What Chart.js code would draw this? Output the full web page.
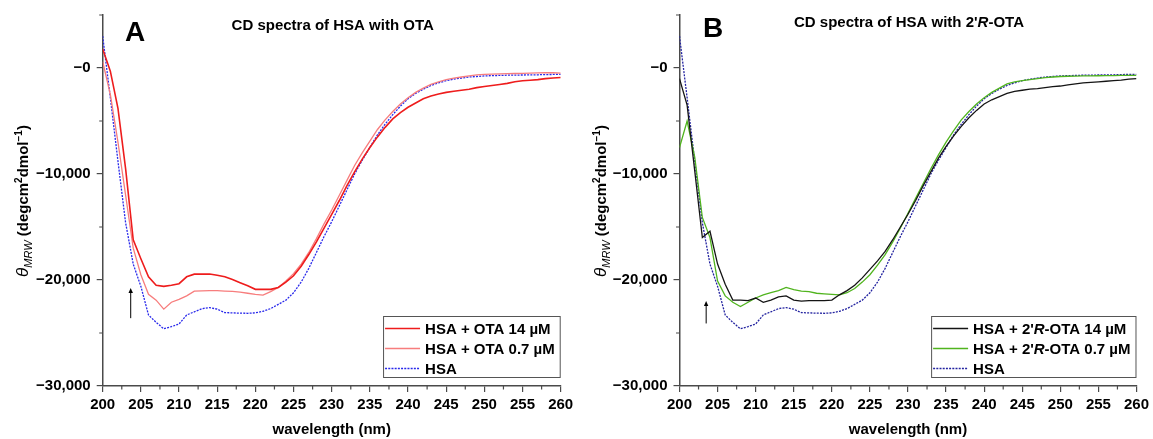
<!DOCTYPE html>
<html>
<head>
<meta charset="utf-8">
<script src="https://cdn.jsdelivr.net/npm/chart.js@4.4.0/dist/chart.umd.min.js"></script>
<style>
  body { margin: 0; background: #fff; }
  #wrap { display: flex; width: 1153px; height: 439px; }
  canvas { display: block; }
</style>
</head>
<body>
<div id="wrap">
  <canvas id="chartA" width="578" height="439"></canvas>
  <canvas id="chartB" width="575" height="439"></canvas>
</div>
<script>
// wavelength (nm)
const wavelengths = [
  200, 201, 202, 203, 204, 205, 206, 207, 208, 209,
  210, 211, 212, 213, 214, 215, 216, 217, 218, 219,
  220, 221, 222, 223, 224, 225, 226, 227, 228, 229,
  230, 231, 232, 233, 234, 235, 236, 237, 238, 239,
  240, 241, 242, 243, 244, 245, 246, 247, 248, 249,
  250, 251, 252, 253, 254, 255, 256, 257, 258, 259, 260,
]

// theta MRW values
const hsa = [
  3000, -2800, -8800, -14600, -18500, -20600, -23300, -24000, -24600, -24400,
  -24150, -23300, -23000, -22700, -22600, -22750, -23080, -23100, -23130, -23140,
  -23100, -22950, -22700, -22300, -21900, -21200, -20200, -18900, -17400, -15900,
  -14500, -13000, -11500, -10000, -8700, -7500, -6300, -5300, -4400, -3600,
  -2900, -2400, -2000, -1650, -1400, -1200, -1050, -950, -850, -800,
  -750, -720, -700, -680, -670, -660, -650, -640, -620, -610, -600,
]
const otaHigh = [
  1800, -300, -3800, -9500, -16200, -18000, -19700, -20500, -20600, -20500,
  -20350, -19700, -19450, -19450, -19430, -19550, -19700, -19950, -20250, -20550,
  -20880, -20880, -20880, -20700, -20200, -19600, -18700, -17600, -16400, -15100,
  -13800, -12500, -11100, -9800, -8600, -7500, -6500, -5600, -4800, -4200,
  -3700, -3300, -2900, -2650, -2450, -2300, -2200, -2100, -2000, -1850,
  -1750, -1650, -1550, -1450, -1300, -1200, -1150, -1100, -1000, -950, -900,
]
const otaLow = [
  600, -2500, -7000, -12000, -17000, -19500, -21350, -21900, -22750, -22100,
  -21820, -21500, -21050, -21020, -21010, -21010, -21050, -21080, -21150, -21250,
  -21350, -21420, -21100, -20700, -20100, -19400, -18500, -17400, -16100, -14700,
  -13400, -12000, -10600, -9200, -8000, -6900, -5800, -4900, -4100, -3400,
  -2800, -2300, -1900, -1550, -1300, -1100, -950, -850, -750, -650,
  -600, -580, -560, -540, -520, -500, -480, -460, -450, -450, -480,
]
const rotaHigh = [
  -1000, -3500, -9700, -16000, -15400, -18500, -20400, -21900, -21900, -21950,
  -21700, -22100, -21900, -21600, -21500, -21900, -22000, -21950, -21950, -21950,
  -21900, -21400, -21000, -20500, -19800, -19000, -18200, -17300, -16200, -15000,
  -13800, -12500, -11100, -9800, -8500, -7400, -6400, -5500, -4700, -4000,
  -3400, -3000, -2700, -2400, -2200, -2100, -2000, -1950, -1850, -1750,
  -1700, -1600, -1500, -1400, -1350, -1300, -1250, -1200, -1150, -1050, -1000,
]
const rotaLow = [
  -7500, -5000, -8400, -14100, -16000, -20100, -21500, -22100, -22500, -22100,
  -21700, -21400, -21200, -21000, -20700, -20900, -21050, -21100, -21250, -21300,
  -21350, -21400, -21200, -20800, -20200, -19500, -18600, -17600, -16400, -15100,
  -13700, -12300, -10900, -9500, -8200, -7000, -5900, -4900, -4100, -3400,
  -2800, -2300, -1900, -1500, -1300, -1200, -1100, -1000, -900, -850,
  -800, -780, -760, -750, -740, -730, -720, -710, -700, -700, -700,
]

// axes
const xTicks = [200, 205, 210, 215, 220, 225, 230, 235, 240, 245, 250, 255, 260]
const xMinorTicks = [202.5, 207.5, 212.5, 217.5, 222.5, 227.5, 232.5, 237.5, 242.5, 247.5, 252.5, 257.5]
const yTicks = [0, -10000, -20000, -30000]
const yTickLabels = ['\u22120', '\u221210,000', '\u221220,000', '\u221230,000']
const yMinorTicks = [5000, -5000, -15000, -25000]

// texts
const panelLetters = ['A', 'B']
const panelTitles = ['CD spectra of HSA with OTA', "CD spectra of HSA with 2'<i>R</i>-OTA"]
const legendA = ['HSA + OTA 14 \u00b5M', 'HSA + OTA 0.7 \u00b5M', 'HSA']
const legendB = ["HSA + 2'<i>R</i>-OTA 14 \u00b5M", "HSA + 2'<i>R</i>-OTA 0.7 \u00b5M", 'HSA']
const xTitle = 'wavelength (nm)'

// small arrows (wavelength, from, to)
const arrowAt = [203.67, 203.5]
const arrowFrom = [-23600, -24100]
const arrowTo = [-20750, -21980]

const FAMILY = '"Liberation Sans", Arial, Helvetica, sans-serif'
const AXIS = '#4a4a4a'
Chart.defaults.font.family = FAMILY
Chart.defaults.color = '#000'

function points(values) {
  return wavelengths.map((w, i) => ({ x: w, y: values[i] }))
}

function richParts(s) {
  return s.split(/<\/?i>/).map((t, i) => ({ t, italic: i % 2 === 1 }))
}

function richWidth(ctx, s, size) {
  let w = 0
  richParts(s).forEach((p) => {
    ctx.font = `${p.italic ? 'italic ' : ''}bold ${size}px ${FAMILY}`
    w += ctx.measureText(p.t).width
  })
  return w
}

function drawRich(ctx, s, x, y, size, align) {
  const w = richWidth(ctx, s, size)
  let cx = align === 'center' ? x - w / 2 : x
  richParts(s).forEach((p) => {
    ctx.font = `${p.italic ? 'italic ' : ''}bold ${size}px ${FAMILY}`
    ctx.fillText(p.t, cx, y)
    cx += ctx.measureText(p.t).width
  })
  return w
}

// y axis title: theta_MRW (degcm^2 dmol^-1)
const yTitleParts = [
  { t: '\u03b8', font: 'italic 17px', dy: 0 },
  { t: 'MRW', font: 'italic 11px', dy: 4 },
  { t: ' (degcm', font: 'bold 15px', dy: 0 },
  { t: '2', font: 'bold 10px', dy: -6 },
  { t: 'dmol', font: 'bold 15px', dy: 0 },
  { t: '\u22121', font: 'bold 10px', dy: -6 },
  { t: ')', font: 'bold 15px', dy: 0 },
]

function drawYTitle(ctx, x, yCenter) {
  let w = 0
  yTitleParts.forEach((p) => {
    ctx.font = `${p.font} ${FAMILY}`
    w += ctx.measureText(p.t).width
  })
  ctx.save()
  ctx.translate(x, yCenter + w / 2)
  ctx.rotate(-Math.PI / 2)
  ctx.textBaseline = 'alphabetic'
  ctx.textAlign = 'left'
  let cx = 0
  yTitleParts.forEach((p) => {
    ctx.font = `${p.font} ${FAMILY}`
    ctx.fillText(p.t, cx, p.dy)
    cx += ctx.measureText(p.t).width
  })
  ctx.restore()
}

const decor = {
  id: 'decor',
  afterDraw(chart, args, o) {
    const { ctx, chartArea: a, scales } = chart
    const x = scales.x
    const y = scales.y
    ctx.save()

    // minor ticks
    ctx.strokeStyle = AXIS
    ctx.lineWidth = 1.2
    ctx.beginPath()
    xMinorTicks.forEach((v) => {
      const px = x.getPixelForValue(v)
      ctx.moveTo(px, a.bottom)
      ctx.lineTo(px, a.bottom + 3.5)
    })
    yMinorTicks.forEach((v) => {
      const py = y.getPixelForValue(v)
      ctx.moveTo(a.left, py)
      ctx.lineTo(a.left - 3.5, py)
    })
    ctx.stroke()

    // arrow
    const ax = x.getPixelForValue(arrowAt[o.panel])
    const ay0 = y.getPixelForValue(arrowFrom[o.panel])
    const ay1 = y.getPixelForValue(arrowTo[o.panel])
    ctx.strokeStyle = '#000'
    ctx.fillStyle = '#000'
    ctx.lineWidth = 1
    ctx.beginPath()
    ctx.moveTo(ax, ay0)
    ctx.lineTo(ax, ay1 + 4)
    ctx.stroke()
    ctx.beginPath()
    ctx.moveTo(ax, ay1)
    ctx.lineTo(ax - 2.2, ay1 + 5)
    ctx.lineTo(ax + 2.2, ay1 + 5)
    ctx.closePath()
    ctx.fill()

    // panel letter and title
    ctx.fillStyle = '#000'
    ctx.textBaseline = 'middle'
    ctx.textAlign = 'left'
    ctx.font = `bold 28px ${FAMILY}`
    ctx.fillText(panelLetters[o.panel], 125, o.letterY)
    drawRich(ctx, panelTitles[o.panel], (a.left + a.right) / 2 + 1, o.titleY, 15, 'center')

    // y title
    drawYTitle(ctx, 28, 201)

    // legend
    const labels = o.legend
    let tw = 0
    labels.forEach((s) => {
      tw = Math.max(tw, richWidth(ctx, s, 15))
    })
    const boxW = 2 + 35 + 5 + tw + 6
    const boxH = 62
    const bx = a.right - boxW
    const by = a.bottom - 8 - boxH
    ctx.fillStyle = '#fff'
    ctx.fillRect(bx, by, boxW, boxH)
    ctx.strokeStyle = '#555'
    ctx.lineWidth = 1
    ctx.strokeRect(bx + 0.5, by + 0.5, boxW - 1, boxH - 1)
    chart.data.datasets.forEach((ds, i) => {
      const ry = by + 12.5 + i * 20
      ctx.save()
      ctx.strokeStyle = ds.borderColor
      ctx.lineWidth = ds.borderWidth
      ctx.setLineDash(ds.borderDash || [])
      ctx.beginPath()
      ctx.moveTo(bx + 2, ry)
      ctx.lineTo(bx + 37, ry)
      ctx.stroke()
      ctx.restore()
      ctx.fillStyle = '#000'
      ctx.textBaseline = 'middle'
      drawRich(ctx, labels[i], bx + 42, ry + 1, 15, 'left')
    })

    ctx.restore()
  },
}

function makeChart(id, panel, datasets, yAxisWidth, padRight, letterY, titleY, legend) {
  const canvas = document.getElementById(id)
  return new Chart(canvas.getContext('2d'), {
    type: 'line',
    data: { datasets },
    options: {
      responsive: false,
      animation: false,
      devicePixelRatio: 1,
      layout: { padding: { left: 0, right: padRight, top: 15, bottom: 0 } },
      elements: { point: { radius: 0 }, line: { tension: 0 } },
      scales: {
        x: {
          type: 'linear',
          min: 200,
          max: 260,
          afterBuildTicks: (s) => {
            s.ticks = xTicks.map((v) => ({ value: v }))
          },
          afterFit: (s) => {
            s.height = 53
          },
          border: { display: true, color: AXIS, width: 1.5 },
          grid: { drawOnChartArea: false, drawTicks: true, tickLength: 6, color: AXIS, lineWidth: 1.2 },
          ticks: {
            font: { size: 15, weight: 'bold' },
            color: '#000',
            padding: 4,
            maxRotation: 0,
            autoSkip: false,
            callback: (v) => String(v),
          },
          title: {
            display: true,
            text: xTitle,
            font: { size: 15, weight: 'bold' },
            color: '#000',
            padding: { top: 0, bottom: 0 },
          },
        },
        y: {
          type: 'linear',
          min: -30000,
          max: 5000,
          afterBuildTicks: (s) => {
            s.ticks = yTicks.map((v) => ({ value: v }))
          },
          afterFit: (s) => {
            s.width = yAxisWidth
          },
          border: { display: true, color: AXIS, width: 1.5 },
          grid: { drawOnChartArea: false, drawTicks: true, tickLength: 6, color: AXIS, lineWidth: 1.2 },
          ticks: {
            font: { size: 15, weight: 'bold' },
            color: '#000',
            padding: 6,
            autoSkip: false,
            callback: (v) => yTickLabels[yTicks.indexOf(v)],
          },
        },
      },
      plugins: {
        legend: { display: false },
        tooltip: { enabled: false },
        decor: { panel, letterY, titleY, legend },
      },
    },
    plugins: [decor],
  })
}

makeChart('chartA', 0, [
  { label: legendA[0], data: points(otaHigh), borderColor: 'rgb(238,28,28)', borderWidth: 1.6, fill: false },
  { label: legendA[1], data: points(otaLow), borderColor: 'rgb(247,125,125)', borderWidth: 1.3, fill: false },
  { label: legendA[2], data: points(hsa), borderColor: 'rgb(40,40,235)', borderWidth: 1.3, borderDash: [2, 1.2], fill: false },
], 102.7, 17.3, 33, 26, legendA)

makeChart('chartB', 1, [
  { label: legendB[0], data: points(rotaHigh), borderColor: 'rgb(20,20,20)', borderWidth: 1.3, fill: false },
  { label: legendB[1], data: points(rotaLow), borderColor: 'rgb(80,180,30)', borderWidth: 1.3, fill: false },
  { label: legendB[2], data: points(hsa), borderColor: 'rgb(35,35,160)', borderWidth: 1.3, borderDash: [2, 1.2], fill: false },
], 101.5, 13, 29.7, 23, legendB)
</script>
</body>
</html>
